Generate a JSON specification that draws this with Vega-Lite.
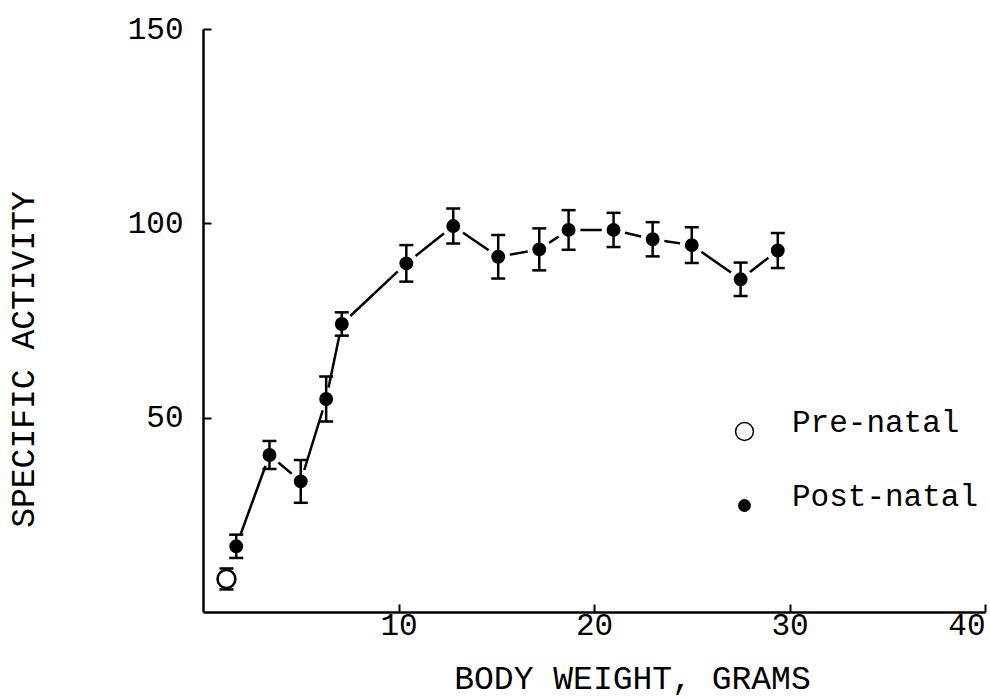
{
  "$schema": "https://vega.github.io/schema/vega-lite/v6.json",
  "width": 782,
  "height": 583,
  "autosize": "none",
  "padding": {"left": 203, "top": 29, "right": 5, "bottom": 86},
  "background": "white",
  "config": {
    "view": {"stroke": null},
    "font": "Liberation Mono",
    "axis": {
      "grid": false,
      "domainColor": "black",
      "domainWidth": 2.5,
      "tickColor": "black",
      "tickWidth": 2,
      "tickSize": -8,
      "labelColor": "black",
      "labelFont": "Liberation Mono",
      "labelFontSize": 31,
      "titleColor": "black",
      "titleFont": "Liberation Mono",
      "titleFontSize": 33,
      "titleFontWeight": "normal"
    },
    "legend": {
      "labelFont": "Liberation Mono",
      "labelFontSize": 31,
      "labelColor": "black",
      "labelLimit": 400
    }
  },
  "data": {
    "values": [
      {"group": "Pre-natal", "weight": 1.2, "activity": 8.5, "err": 2.7},
      {"group": "Post-natal", "weight": 1.7, "activity": 16.9, "err": 3.0},
      {"group": "Post-natal", "weight": 3.4, "activity": 40.4, "err": 3.6},
      {"group": "Post-natal", "weight": 5.0, "activity": 33.6, "err": 5.5},
      {"group": "Post-natal", "weight": 6.3, "activity": 54.8, "err": 5.8},
      {"group": "Post-natal", "weight": 7.1, "activity": 74.1, "err": 3.0},
      {"group": "Post-natal", "weight": 10.4, "activity": 89.7, "err": 4.7},
      {"group": "Post-natal", "weight": 12.8, "activity": 99.3, "err": 4.5},
      {"group": "Post-natal", "weight": 15.1, "activity": 91.4, "err": 5.6},
      {"group": "Post-natal", "weight": 17.2, "activity": 93.3, "err": 5.4},
      {"group": "Post-natal", "weight": 18.7, "activity": 98.3, "err": 5.1},
      {"group": "Post-natal", "weight": 21.0, "activity": 98.3, "err": 4.4},
      {"group": "Post-natal", "weight": 23.0, "activity": 95.9, "err": 4.4},
      {"group": "Post-natal", "weight": 25.0, "activity": 94.4, "err": 4.6},
      {"group": "Post-natal", "weight": 27.5, "activity": 85.6, "err": 4.3},
      {"group": "Post-natal", "weight": 29.4, "activity": 93.0, "err": 4.5}
    ]
  },
  "encoding": {
    "x": {
      "field": "weight",
      "type": "quantitative",
      "scale": {"domain": [0, 40], "nice": false, "zero": false},
      "axis": {
        "values": [10, 20, 30, 40],
        "title": "BODY WEIGHT, GRAMS",
        "titleX": 429,
        "titleY": 76,
        "titleBaseline": "alphabetic",
        "labelPadding": 6,
        "labelFlush": true,
        "labelBaseline": "top"
      }
    },
    "y": {
      "field": "activity",
      "type": "quantitative",
      "scale": {"domain": [0, 150], "nice": false, "zero": false},
      "axis": {
        "values": [50, 100, 150],
        "title": "SPECIFIC ACTIVITY",
        "titleX": -170,
        "titleY": 330,
        "titleAngle": -90,
        "titleBaseline": "alphabetic",
        "titleAlign": "center",
        "labelPadding": 28
      }
    }
  },
  "layer": [
    {
      "transform": [{"filter": "datum.group === 'Post-natal'"}],
      "mark": {"type": "line", "color": "black", "strokeWidth": 2.5},
      "encoding": {}
    },
    {
      "transform": [{"filter": "datum.group === 'Post-natal'"}],
      "mark": {"type": "point", "filled": true, "color": "white", "opacity": 1, "size": 560, "shape": "circle"},
      "encoding": {}
    },
    {
      "mark": {
        "type": "errorbar",
        "ticks": {"size": 14, "color": "black", "thickness": 2.5, "opacity": 1},
        "rule": {"color": "black", "strokeWidth": 2.5, "opacity": 1}
      },
      "encoding": {
        "yError": {"field": "err"}
      }
    },
    {
      "mark": {"type": "point", "shape": "circle", "stroke": "black", "strokeWidth": 2.5, "opacity": 1},
      "encoding": {
        "fill": {
          "field": "group",
          "type": "ordinal",
          "scale": {"domain": ["Pre-natal", "Post-natal"], "range": ["white", "black"]},
          "legend": {
            "title": null,
            "orient": "none",
            "legendX": 526,
            "legendY": 387,
            "labelBaseline": "alphabetic",
            "labelOffset": 32,
            "rowPadding": 36,
            "encode": {
              "symbols": {
                "update": {
                  "stroke": {"value": "black"},
                  "strokeWidth": {"value": 2.5},
                  "opacity": {"value": 1}
                }
              }
            }
          }
        },
        "size": {
          "field": "group",
          "type": "ordinal",
          "scale": {"domain": ["Pre-natal", "Post-natal"], "range": [320, 130]},
          "legend": {
            "title": null,
            "orient": "none",
            "legendX": 526,
            "legendY": 387,
            "labelBaseline": "alphabetic",
            "labelOffset": 32,
            "rowPadding": 36,
            "encode": {
              "symbols": {
                "update": {
                  "stroke": {"value": "black"},
                  "strokeWidth": {"value": 2.5},
                  "opacity": {"value": 1}
                }
              }
            }
          }
        }
      }
    }
  ]
}
